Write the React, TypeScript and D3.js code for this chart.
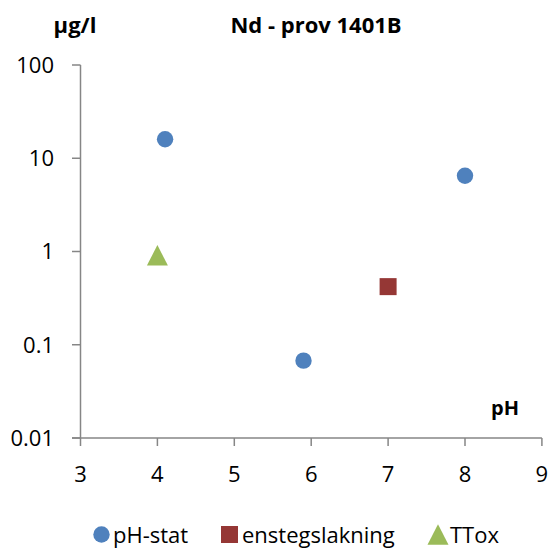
import React from "react";
import * as d3 from "d3";

const xTicks = [3, 4, 5, 6, 7, 8, 9];
const yTicks = [0.01, 0.1, 1, 10, 100];
const yTickLabels = ["0.01", "0.1", "1", "10", "100"];

const phStatX = [4.1, 5.9, 8.0];
const phStatY = [16, 0.0675, 6.5];
const enstegX = [7.0];
const enstegY = [0.42];
const ttoxX = [4.0];
const ttoxY = [0.91];

const seriesNames = ["pH-stat", "enstegslakning", "TTox"];
const colors = ["#4F81BD", "#953735", "#9BBB59"];

const W = 550;
const H = 549;
const FONT = "'Open Sans', 'Liberation Sans', sans-serif";

export default function App() {
  const x = d3.scaleLinear().domain([3, 9]).range([80.5, 541.9]);
  const y = d3.scaleLog().domain([0.01, 100]).range([438, 65]);
  const axisColor = "#868686";

  const circle = (cx: number, cy: number, key: string) => (
    <circle key={key} cx={cx} cy={cy} r={8.2} fill={colors[0]} />
  );
  const square = (cx: number, cy: number, key: string) => (
    <rect key={key} x={cx - 8.5} y={cy - 8.5} width={17} height={17} fill={colors[1]} />
  );
  const tri = (cx: number, cy: number, key: string) => (
    <path
      key={key}
      d={`M${cx},${cy - 10.3} L${cx + 10.5},${cy + 10.3} L${cx - 10.5},${cy + 10.3} Z`}
      fill={colors[2]}
    />
  );

  return (
    <svg width={W} height={H} style={{ position: "absolute", left: 0, top: 0 }}>
      <rect width={W} height={H} fill="#fff" />
      {/* axes */}
      <line x1={80.5} x2={80.5} y1={65} y2={438} stroke={axisColor} strokeWidth={1.5} />
      <line x1={72} x2={541.9} y1={438} y2={438} stroke={axisColor} strokeWidth={1.5} />
      {yTicks.map((t, i) => (
        <g key={"y" + t}>
          <line x1={72} x2={80.5} y1={y(t)} y2={y(t)} stroke={axisColor} strokeWidth={1.5} />
          <text
            x={54}
            y={y(t)}
            dy="0.36em"
            textAnchor="end"
            fontFamily={FONT}
            fontSize={22}
            fill="#000"
          >
            {yTickLabels[i]}
          </text>
        </g>
      ))}
      {xTicks.map((t) => (
        <g key={"x" + t}>
          <line x1={x(t)} x2={x(t)} y1={438} y2={446} stroke={axisColor} strokeWidth={1.5} />
          <text
            x={x(t)}
            y={481.5}
            textAnchor="middle"
            fontFamily={FONT}
            fontSize={22}
            fill="#000"
          >
            {t}
          </text>
        </g>
      ))}
      {/* titles */}
      <text x={75} y={33} textAnchor="middle" fontFamily={FONT} fontWeight="bold" fontSize={22}>
        µg/l
      </text>
      <text x={316} y={33} textAnchor="middle" fontFamily={FONT} fontWeight="bold" fontSize={22}>
        Nd - prov 1401B
      </text>
      <text x={505} y={415} textAnchor="middle" fontFamily={FONT} fontWeight="bold" fontSize={20}>
        pH
      </text>
      {/* markers */}
      {phStatX.map((v, i) => circle(x(v), y(phStatY[i]), "p" + i))}
      {enstegX.map((v, i) => square(x(v), y(enstegY[i]), "e" + i))}
      {ttoxX.map((v, i) => tri(x(v), y(ttoxY[i]), "t" + i))}
      {/* legend */}
      <g fontFamily={FONT} fontSize={22}>
        {circle(101.5, 534.5, "lc")}
        <text x={113} y={543}>{seriesNames[0]}</text>
        {square(229.5, 534.5, "ls")}
        <text x={242} y={543}>{seriesNames[1]}</text>
        {tri(438, 534.5, "lt")}
        <text x={450} y={543}>{seriesNames[2]}</text>
      </g>
    </svg>
  );
}
